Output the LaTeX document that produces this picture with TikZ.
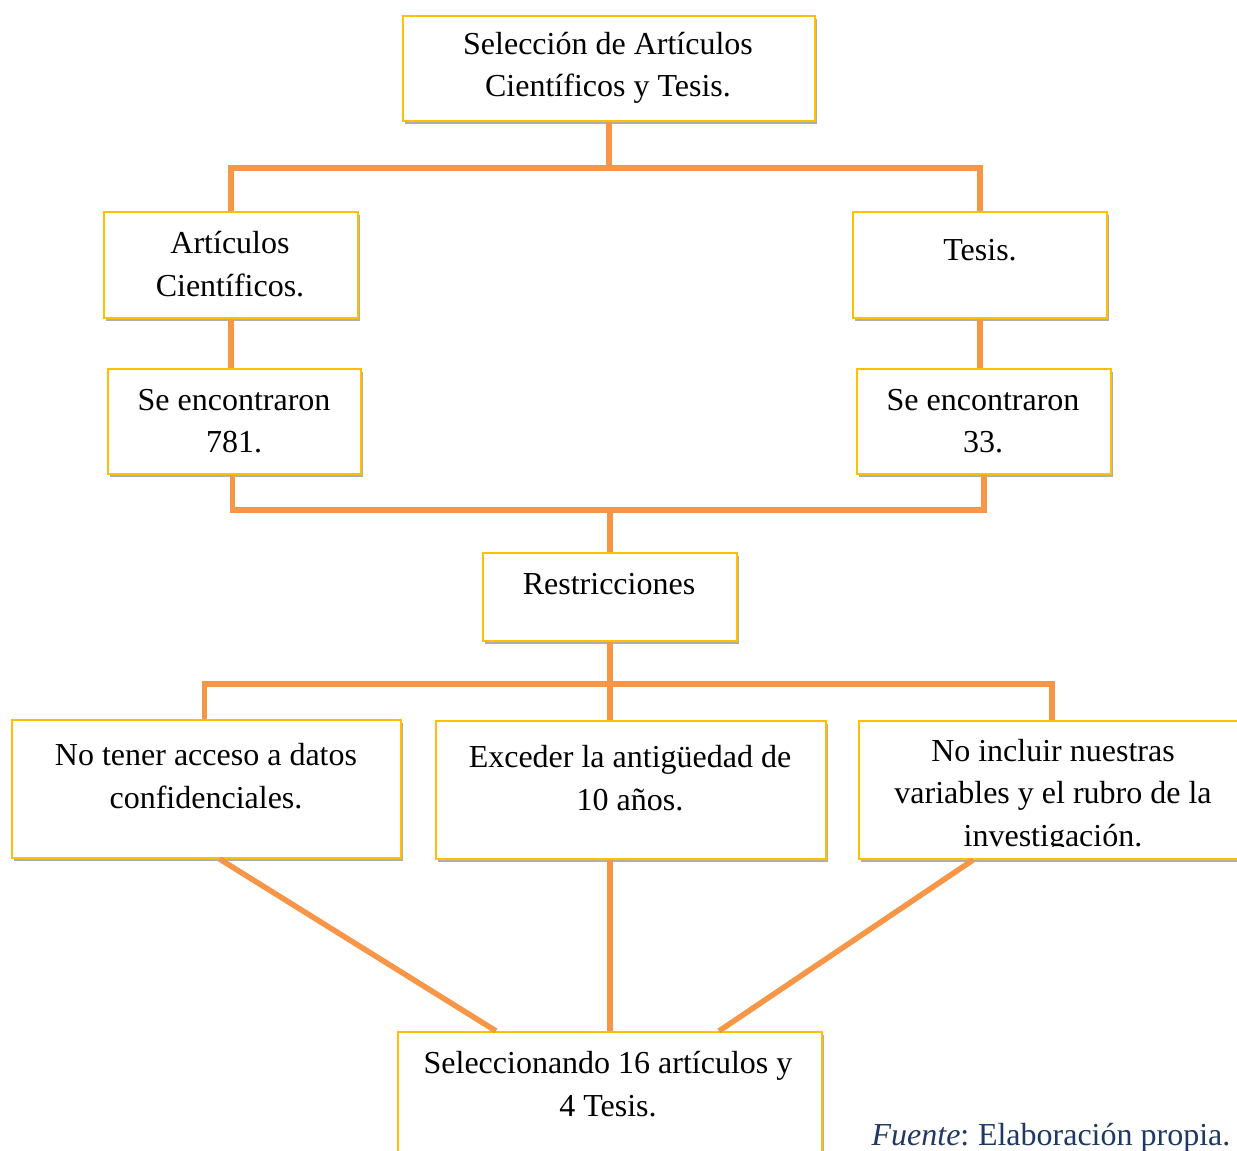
\documentclass[tikz,border=0pt]{standalone}
\usepackage{fontspec}
\setmainfont{Liberation Serif}
\usetikzlibrary{shadows,calc}
\definecolor{boxgold}{RGB}{255,192,0}
\definecolor{lineor}{RGB}{247,150,70}
\definecolor{navy}{RGB}{31,56,100}
\tikzset{
  box/.style={draw=boxgold, line width=2pt, fill=white, inner sep=0pt, anchor=north west,
    drop shadow={shadow xshift=2pt, shadow yshift=-3pt, opacity=0.45, fill=black!70}},
  conn/.style={draw=lineor, line width=5.5pt},
  txt/.style={align=center, inner sep=0pt, font=\fontsize{32}{42.5}\selectfont}
}
\begin{document}
\begin{tikzpicture}[x=1pt,y=-1pt]
\clip (0,0) rectangle (1237,1151);
\fill[white] (0,0) rectangle (1237,1151);
% boxes
\node[box, minimum width=412pt, minimum height=105pt] (top) at (402,15) {};
\node[box, minimum width=254pt, minimum height=106pt] (art) at (103,211) {};
\node[box, minimum width=254pt, minimum height=106pt] (tes) at (852,211) {};
\node[box, minimum width=253pt, minimum height=105pt] (e781) at (107,368) {};
\node[box, minimum width=254pt, minimum height=105pt] (e33) at (856,368) {};
\node[box, minimum width=254pt, minimum height=88pt] (res) at (482,552) {};
\node[box, minimum width=389pt, minimum height=138pt] (b7) at (11,719) {};
\node[box, minimum width=390pt, minimum height=138pt] (b8) at (435,720) {};
\node[box, minimum width=420pt, minimum height=138pt] (b9) at (858,720) {};
\node[box, minimum width=424pt, minimum height=140pt] (fin) at (397,1031) {};
% junctions
\coordinate (jtop) at (608,168);
\coordinate (jmid) at (610,510);
\coordinate (jres) at (609,684);
\coordinate (c9) at (1052,720);
% connectors
\draw[conn] (top.south) -- (top.south |- jtop);
\draw[conn] (art.north) |- (jtop) -| (tes.north);
\draw[conn] (art.south) -- (art.south |- e781.north);
\draw[conn] (tes.south) -- (tes.south |- e33.north);
\draw[conn] ($(e781.south)+(-2,0)$) |- (jmid) -| (e33.south);
\draw[conn] (jmid) -- (jmid |- res.north);
\draw[conn] (res.south) -- (res.south |- b8.north);
\draw[conn] ($(b7.north)+(-2,0)$) |- (jres) -| (c9);
\draw[conn] ($(b7.south)+(13,0)$) -- ($(fin.north)+(-114,0)$);
\draw[conn] (b8.south -| fin.north) -- (fin.north);
\draw[conn] ($(b9.south)+(-96,0)$) -- ($(fin.north)+(109,0)$);
% texts
\node[txt] (t1) at (608,68) {Selección de Artículos\\Científicos y Tesis.};
\node[txt] (t2) at (230,264) {Artículos\\Científicos.};
\node[txt] (t3) at (980,250) {Tesis.};
\node[txt] (t4) at (234,421) {Se encontraron\\781.};
\node[txt] (t5) at (983,421) {Se encontraron\\33.};
\node[txt] (t6) at (609,584) {Restricciones};
\node[txt] (t7) at (206,776) {No tener acceso a datos\\confidenciales.};
\node[txt] (t8) at (630,778) {Exceder la antigüedad de\\10 años.};
\begin{scope}
\clip (860,722) rectangle (1237,846);
\node[txt] (t9) at (1053,796) {No incluir nuestras\\variables y el rubro de la\\investigación.};
\end{scope}
\node[txt] (t10) at (608,1084) {Seleccionando 16 artículos y\\4 Tesis.};
\node[txt, text=navy] (src) at (1051,1138) {\textit{Fuente}:\kern-2pt{} Elaboración propia.};
\end{tikzpicture}
\end{document}
